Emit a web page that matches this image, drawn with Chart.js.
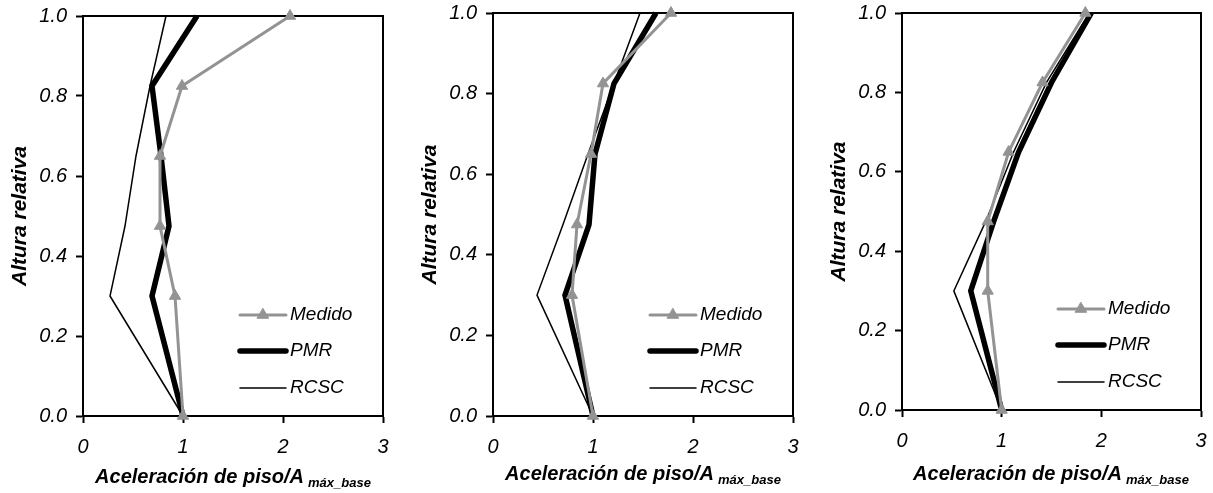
<!DOCTYPE html>
<html>
<head>
<meta charset="utf-8">
<script src="https://cdn.jsdelivr.net/npm/chart.js@4.4.0/dist/chart.umd.min.js"></script>
<style>
    body {
        margin: 0;
        background: #ffffff;
        width: 1213px;
        height: 493px;
        overflow: hidden;
        position: relative;
        font-family: "Liberation Sans", Arial, sans-serif;
    }
    canvas {
        position: absolute;
        top: 0;
    }
    .x-title {
        position: absolute;
        font-weight: bold;
        font-style: italic;
        font-size: 20px;
        line-height: 22px;
        white-space: nowrap;
        transform: translateX(-50%);
        color: #000;
    }
    .x-title span {
        font-size: 13px;
        position: relative;
        top: 4px;
        margin-left: 4px;
    }
</style>
</head>
<body>
<canvas id="chart1" width="405" height="493" style="left:0px"></canvas>
<canvas id="chart2" width="403" height="493" style="left:405px"></canvas>
<canvas id="chart3" width="405" height="493" style="left:808px"></canvas>
<div class="x-title" style="left:233px;top:465px">Aceleración de piso/A<span>máx_base</span></div>
<div class="x-title" style="left:643px;top:462px">Aceleración de piso/A<span>máx_base</span></div>
<div class="x-title" style="left:1051px;top:462px">Aceleración de piso/A<span>máx_base</span></div>

<script>
// relative height of each floor (shared by all three panels)
const alturas = [0, 0.30, 0.475, 0.65, 0.825, 1.0];
const seriesNames = ['Medido', 'PMR', 'RCSC'];
const xTickLabels = ['0', '1', '2', '3'];
const yTickLabels = ['0.0', '0.2', '0.4', '0.6', '0.8', '1.0'];

// floor acceleration / A máx_base
const medido1 = [1.00, 0.92, 0.77, 0.77, 0.99, 2.07];
const pmr1    = [1.00, 0.69, 0.86, 0.78, 0.69, 1.14];
const rcsc1   = [1.00, 0.27, 0.42, 0.53, 0.67, 0.83];

const medido2 = [1.00, 0.79, 0.84, 0.98, 1.10, 1.78];
const pmr2    = [1.00, 0.72, 0.96, 1.02, 1.21, 1.63];
const rcsc2   = [1.00, 0.44, 0.70, 0.95, 1.21, 1.47];

const medido3 = [1.00, 0.86, 0.86, 1.07, 1.41, 1.84];
const pmr3    = [1.00, 0.69, 0.92, 1.17, 1.50, 1.90];
const rcsc3   = [1.00, 0.52, 0.84, 1.12, 1.45, 1.88];

const GREY = '#939393';
const FONT = "'Liberation Sans', Arial, sans-serif";
Chart.defaults.font.family = FONT;
Chart.defaults.color = '#000';

function toPoints(values) {
    return values.map((v, i) => ({ x: v, y: alturas[i] }));
}

// box around the plot area + legend inside it
const frameLegend = {
    id: 'frameLegend',
    beforeDatasetsDraw(chart) {
        const { ctx, chartArea: a } = chart;
        ctx.save();
        ctx.strokeStyle = '#000';
        ctx.lineWidth = 2;
        ctx.strokeRect(a.left, a.top, a.right - a.left, a.bottom - a.top);
        ctx.restore();
    },
    afterDraw(chart) {
        const { ctx, chartArea: a } = chart;
        const rowOffsets = [101, 65, 28];
        const x0 = a.right - 143;
        ctx.save();
        chart.data.datasets.forEach((ds, i) => {
            const y = a.bottom - rowOffsets[i];
            ctx.beginPath();
            ctx.strokeStyle = ds.borderColor;
            ctx.lineWidth = ds.borderWidth;
            ctx.lineCap = 'round';
            ctx.moveTo(x0, y);
            ctx.lineTo(x0 + 46, y);
            ctx.stroke();
            if (ds.pointRadius > 0) {
                ctx.fillStyle = ds.pointBackgroundColor;
                ctx.strokeStyle = ds.pointBorderColor;
                ctx.lineWidth = 1;
                Chart.helpers.drawPoint(ctx, { pointStyle: 'triangle', radius: ds.pointRadius, borderWidth: 1, rotation: 0 }, x0 + 23, y);
            }
            ctx.fillStyle = '#000';
            ctx.font = 'italic 19px ' + FONT;
            ctx.textBaseline = 'middle';
            ctx.textAlign = 'left';
            ctx.fillText(ds.label, x0 + 50, y);
        });
        ctx.restore();
    }
};

function makeChart(canvasId, medido, pmr, rcsc, box) {
    const ctx = document.getElementById(canvasId);
    const titleFont = { size: 21, weight: 'bold', style: 'italic' };
    return new Chart(ctx, {
        type: 'scatter',
        data: {
            datasets: [
                {
                    label: seriesNames[0],
                    data: toPoints(medido),
                    showLine: true,
                    borderColor: GREY,
                    backgroundColor: GREY,
                    borderWidth: 3,
                    pointStyle: 'triangle',
                    pointRadius: 6.5,
                    pointBackgroundColor: GREY,
                    pointBorderColor: GREY,
                    pointBorderWidth: 1,
                    tension: 0,
                    clip: false
                },
                {
                    label: seriesNames[1],
                    data: toPoints(pmr),
                    showLine: true,
                    borderColor: '#000',
                    borderWidth: 5.5,
                    borderJoinStyle: 'miter',
                    pointRadius: 0,
                    tension: 0,
                    clip: false
                },
                {
                    label: seriesNames[2],
                    data: toPoints(rcsc),
                    showLine: true,
                    borderColor: '#000',
                    borderWidth: 1.5,
                    pointRadius: 0,
                    tension: 0,
                    clip: false
                }
            ]
        },
        options: {
            responsive: false,
            animation: false,
            events: [],
            layout: {
                padding: { left: 0, top: box.top, right: box.right, bottom: 0 }
            },
            plugins: {
                legend: { display: false },
                tooltip: { enabled: false }
            },
            scales: {
                x: {
                    type: 'linear',
                    min: 0,
                    max: 3,
                    afterFit(scale) {
                        scale.height = box.xHeight;
                        scale.paddingLeft = 0;
                        scale.paddingRight = 0;
                    },
                    afterBuildTicks(scale) {
                        scale.ticks = xTickLabels.map(t => ({ value: Number(t) }));
                    },
                    ticks: {
                        font: { size: 20, style: 'italic' },
                        color: '#000',
                        padding: 12,
                        callback: (v, i) => xTickLabels[i]
                    },
                    grid: {
                        drawOnChartArea: false,
                        drawTicks: true,
                        tickLength: 7,
                        tickWidth: 2,
                        tickColor: '#000'
                    },
                    border: { display: true, color: '#000', width: 2 }
                },
                y: {
                    type: 'linear',
                    min: 0,
                    max: 1,
                    afterFit(scale) {
                        scale.width = box.yWidth;
                        scale.paddingTop = 0;
                        scale.paddingBottom = 0;
                    },
                    afterBuildTicks(scale) {
                        scale.ticks = yTickLabels.map(t => ({ value: Number(t) }));
                    },
                    ticks: {
                        font: { size: 20, style: 'italic' },
                        color: '#000',
                        padding: 9,
                        callback: (v, i) => yTickLabels[i]
                    },
                    grid: {
                        drawOnChartArea: false,
                        drawTicks: true,
                        tickLength: 7,
                        tickWidth: 2,
                        tickColor: '#000'
                    },
                    border: { display: true, color: '#000', width: 2 },
                    title: {
                        display: true,
                        text: 'Altura relativa',
                        color: '#000',
                        font: titleFont,
                        padding: { top: box.yWidth - 63 - 12.6, bottom: 0 }
                    }
                }
            }
        },
        plugins: [frameLegend]
    });
}

makeChart('chart1', medido1, pmr1, rcsc1, { yWidth: 83, top: 16, right: 22, xHeight: 77 });
makeChart('chart2', medido2, pmr2, rcsc2, { yWidth: 88, top: 13, right: 15, xHeight: 77 });
makeChart('chart3', medido3, pmr3, rcsc3, { yWidth: 94, top: 13, right: 12, xHeight: 83 });
</script>
</body>
</html>
